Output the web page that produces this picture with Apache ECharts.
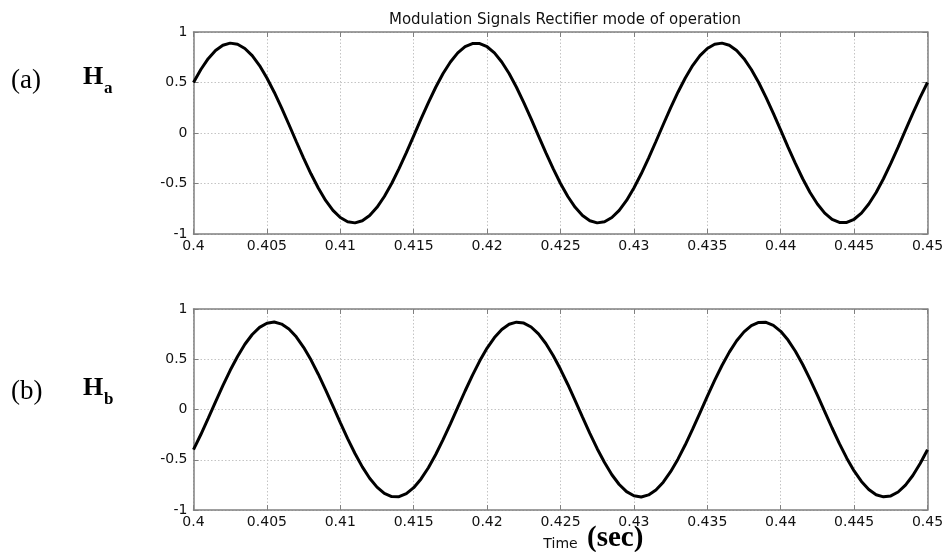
<!DOCTYPE html>
<html>
<head>
<meta charset="utf-8">
<script src="https://cdn.jsdelivr.net/npm/echarts@6/dist/echarts.min.js"></script>
<style>
html,body{margin:0;padding:0;background:#fff;}
#chart{width:947px;height:552px;}
</style>
</head>
<body>
<div id="chart"></div>
<script>
// Time samples (s)
var timeValues = [0.4000,0.4005,0.4010,0.4015,0.4020,0.4025,0.4030,0.4035,0.4040,0.4045,
  0.4050,0.4055,0.4060,0.4065,0.4070,0.4075,0.4080,0.4085,0.4090,0.4095,
  0.4100,0.4105,0.4110,0.4115,0.4120,0.4125,0.4130,0.4135,0.4140,0.4145,
  0.4150,0.4155,0.4160,0.4165,0.4170,0.4175,0.4180,0.4185,0.4190,0.4195,
  0.4200,0.4205,0.4210,0.4215,0.4220,0.4225,0.4230,0.4235,0.4240,0.4245,
  0.4250,0.4255,0.4260,0.4265,0.4270,0.4275,0.4280,0.4285,0.4290,0.4295,
  0.4300,0.4305,0.4310,0.4315,0.4320,0.4325,0.4330,0.4335,0.4340,0.4345,
  0.4350,0.4355,0.4360,0.4365,0.4370,0.4375,0.4380,0.4385,0.4390,0.4395,
  0.4400,0.4405,0.4410,0.4415,0.4420,0.4425,0.4430,0.4435,0.4440,0.4445,
  0.4450,0.4455,0.4460,0.4465,0.4470,0.4475,0.4480,0.4485,0.4490,0.4495,0.4500];
var haValues = [0.500,0.629,0.736,0.817,0.869,0.890,0.879,0.837,0.766,0.668,
  0.545,0.404,0.248,0.084,-0.084,-0.248,-0.404,-0.545,-0.668,-0.766,
  -0.837,-0.879,-0.890,-0.869,-0.817,-0.736,-0.629,-0.500,-0.353,-0.194,
  -0.028,0.139,0.301,0.453,0.589,0.703,0.793,0.855,0.886,0.886,
  0.854,0.793,0.703,0.589,0.453,0.301,0.139,-0.028,-0.194,-0.353,
  -0.500,-0.629,-0.736,-0.817,-0.869,-0.890,-0.879,-0.837,-0.766,-0.668,
  -0.545,-0.404,-0.248,-0.084,0.084,0.248,0.404,0.545,0.668,0.766,
  0.837,0.879,0.890,0.869,0.817,0.736,0.629,0.500,0.353,0.194,
  0.028,-0.139,-0.301,-0.453,-0.589,-0.703,-0.793,-0.855,-0.886,-0.886,
  -0.854,-0.793,-0.703,-0.589,-0.453,-0.301,-0.139,0.028,0.194,0.353,0.500];
var hbValues = [-0.400,-0.249,-0.088,0.076,0.237,0.390,0.528,0.649,0.746,0.817,
  0.858,0.870,0.850,0.801,0.723,0.619,0.494,0.351,0.196,0.033,
  -0.130,-0.289,-0.438,-0.571,-0.684,-0.772,-0.834,-0.866,-0.867,-0.837,
  -0.778,-0.691,-0.580,-0.448,-0.300,-0.142,0.021,0.184,0.340,0.484,
  0.611,0.716,0.796,0.848,0.869,0.860,0.821,0.752,0.657,0.538,
  0.400,0.249,0.088,-0.076,-0.237,-0.390,-0.528,-0.649,-0.746,-0.817,
  -0.858,-0.870,-0.850,-0.801,-0.723,-0.619,-0.494,-0.351,-0.196,-0.033,
  0.130,0.289,0.438,0.571,0.684,0.772,0.834,0.866,0.867,0.837,
  0.778,0.691,0.580,0.448,0.300,0.142,-0.021,-0.184,-0.340,-0.484,
  -0.611,-0.716,-0.796,-0.848,-0.869,-0.860,-0.821,-0.752,-0.657,-0.538,-0.400];
var xMin = 0.4, xMax = 0.45, xStep = 0.005;
var yMin = -1, yMax = 1, yStep = 0.5;
var titleText = 'Modulation Signals Rectifier mode of operation';

function pairs(vals){ return timeValues.map(function(t,i){ return [t, vals[i]]; }); }

var chart = echarts.init(document.getElementById('chart'), null, {renderer:'canvas'});
var axisGray = '#808080';
var gridLine = {show:true, lineStyle:{color:'#c4c4c4', type:[1.5,2], width:1}};
var labelStyle = {color:'#111', fontFamily:'DejaVu Sans', fontSize:14};
function xAxes(gridIndex, withName){
  return [{
    type:'value', gridIndex:gridIndex, position:'bottom', min:xMin, max:xMax, interval:xStep,
    axisLine:{show:true, onZero:false, lineStyle:{color:axisGray, width:1.5}},
    axisTick:{show:true, inside:true, length:5, lineStyle:{color:axisGray}},
    axisLabel:Object.assign({margin:5, formatter:function(v){ return String(parseFloat(v.toFixed(3))); }}, labelStyle),
    splitLine:gridLine,
    name: withName ? 'Time' : '', nameLocation:'middle', nameGap:27,
    nameTextStyle:{color:'#111', fontFamily:'DejaVu Sans', fontSize:14}
  },{
    type:'value', gridIndex:gridIndex, position:'top', min:xMin, max:xMax, interval:xStep,
    axisLine:{show:true, onZero:false, lineStyle:{color:axisGray, width:1.5}},
    axisTick:{show:true, inside:true, length:5, lineStyle:{color:axisGray}},
    axisLabel:{show:false}, splitLine:{show:false}
  }];
}
function yAxes(gridIndex){
  return [{
    type:'value', gridIndex:gridIndex, position:'left', min:yMin, max:yMax, interval:yStep,
    axisLine:{show:true, onZero:false, lineStyle:{color:axisGray, width:1.5}},
    axisTick:{show:true, inside:true, length:5, lineStyle:{color:axisGray}},
    axisLabel:Object.assign({margin:6}, labelStyle),
    splitLine:gridLine
  },{
    type:'value', gridIndex:gridIndex, position:'right', min:yMin, max:yMax, interval:yStep,
    axisLine:{show:true, onZero:false, lineStyle:{color:axisGray, width:1.5}},
    axisTick:{show:true, inside:true, length:5, lineStyle:{color:axisGray}},
    axisLabel:{show:false}, splitLine:{show:false}
  }];
}
var option = {
  backgroundColor:'#fff',
  animation:false,
  title:{text:titleText, left:560, top:8, textAlign:'center',
    textStyle:{color:'#111', fontFamily:'DejaVu Sans', fontSize:15, fontWeight:'normal'}},
  grid:[
    {left:193.5, right:19.5, top:32, height:202},
    {left:193.5, right:19.5, top:309, height:203}
  ],
  xAxis: xAxes(0,false).concat(xAxes(1,true)),
  yAxis: yAxes(0).concat(yAxes(1)),
  series:[
    {type:'line', name:'Ha', xAxisIndex:0, yAxisIndex:0, data:pairs(haValues), smooth:false,
      showSymbol:false, lineStyle:{color:'#000', width:3}},
    {type:'line', name:'Hb', xAxisIndex:2, yAxisIndex:2, data:pairs(hbValues), smooth:false,
      showSymbol:false, lineStyle:{color:'#000', width:3}}
  ],
  graphic:[
    {type:'text', left:11, top:67, style:{text:'(a)', font:'27px "Liberation Serif"', fill:'#000'}},
    {type:'text', x:83, y:90, style:{text:'H', font:'bold 26px "Liberation Serif"', fill:'#000', textVerticalAlign:'bottom'}},
    {type:'text', x:104, y:97, style:{text:'a', font:'bold 17px "Liberation Serif"', fill:'#000', textVerticalAlign:'bottom'}},
    {type:'text', left:11, top:378, style:{text:'(b)', font:'27px "Liberation Serif"', fill:'#000'}},
    {type:'text', x:83, y:401, style:{text:'H', font:'bold 26px "Liberation Serif"', fill:'#000', textVerticalAlign:'bottom'}},
    {type:'text', x:104, y:408, style:{text:'b', font:'bold 17px "Liberation Serif"', fill:'#000', textVerticalAlign:'bottom'}},
    {type:'text', x:587, y:553, style:{text:'(sec)', font:'bold 29px "Liberation Serif"', fill:'#000', textVerticalAlign:'bottom'}}
  ]
};
chart.setOption(option);
</script>
</body>
</html>
